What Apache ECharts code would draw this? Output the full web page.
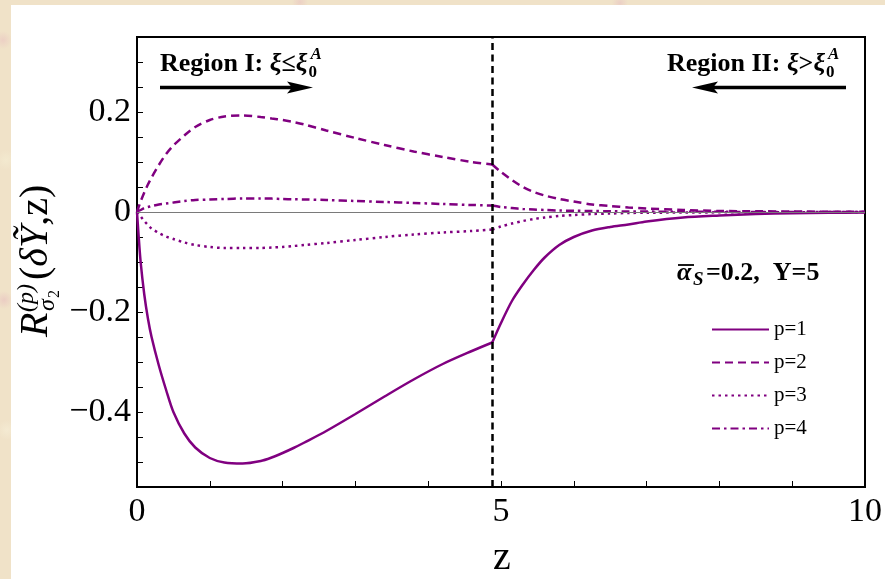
<!DOCTYPE html>
<html>
<head>
<meta charset="utf-8">
<script src="https://cdn.jsdelivr.net/npm/echarts@6/dist/echarts.min.js"></script>
<style>
  html, body { margin: 0; padding: 0; width: 885px; height: 579px; overflow: hidden; }
  body {
    background-color: #f0e2c8;
    background-image:
      radial-gradient(circle at 3px 40px, #ecd0c4 0, rgba(236,208,196,0) 9px),
      radial-gradient(circle at 6px 160px, #f3e9cf 0, rgba(243,233,207,0) 10px),
      radial-gradient(circle at 4px 300px, #ebcdc3 0, rgba(235,205,195,0) 9px),
      radial-gradient(circle at 7px 430px, #f4ead2 0, rgba(244,234,210,0) 10px),
      radial-gradient(circle at 300px 2px, #ecd0c4 0, rgba(236,208,196,0) 8px),
      radial-gradient(circle at 620px 3px, #ebcfc5 0, rgba(235,207,197,0) 8px);
  }
  #paper { position: absolute; left: 11px; top: 5px; width: 874px; height: 574px; background: #ffffff; }
  #chart { position: absolute; left: 0; top: 0; width: 885px; height: 579px; }
</style>
</head>
<body>
<div id="paper"></div>
<div id="chart"></div>
<script>
// z sample points (shared by all curves)
const zValues = [0, 0.02, 0.05, 0.1, 0.15, 0.2, 0.3, 0.4, 0.5, 0.65, 0.8, 1.0, 1.2, 1.45, 1.7, 1.85, 2.0, 2.15, 2.3, 2.6, 3.0, 3.4, 3.8, 4.2, 4.6, 4.88,
                 5.0, 5.15, 5.3, 5.45, 5.6, 5.8, 6.0, 6.25, 6.5, 6.75, 7.0, 7.5, 8.0, 8.5, 9.0, 9.5, 10.0];

// R^(p)_{sigma_2}(dY, z) for p = 1..4
const p1Values = [0, -0.043, -0.100, -0.165, -0.213, -0.250, -0.307, -0.356, -0.400, -0.443, -0.471, -0.492, -0.501, -0.503, -0.498, -0.491, -0.482, -0.472, -0.461, -0.438, -0.404, -0.369, -0.335, -0.304, -0.278, -0.261,
                  -0.222, -0.178, -0.145, -0.116, -0.091, -0.066, -0.050, -0.037, -0.030, -0.025, -0.019, -0.011, -0.007, -0.004, -0.0025, -0.0015, -0.001];
const p2Values = [0, 0.009, 0.021, 0.039, 0.055, 0.069, 0.094, 0.116, 0.133, 0.153, 0.170, 0.184, 0.191, 0.193, 0.190, 0.187, 0.184, 0.180, 0.175, 0.163, 0.148, 0.134, 0.121, 0.110, 0.100, 0.095,
                  0.080, 0.064, 0.050, 0.040, 0.033, 0.026, 0.021, 0.015, 0.012, 0.009, 0.007, 0.004, 0.002, 0.0015, 0.001, 0.0005, 0.0003];
const p3Values = [0, -0.004, -0.009, -0.018, -0.026, -0.033, -0.042, -0.049, -0.054, -0.061, -0.066, -0.070, -0.072, -0.072, -0.072, -0.071, -0.070, -0.068, -0.066, -0.062, -0.056, -0.050, -0.045, -0.041, -0.038, -0.035,
                  -0.029, -0.023, -0.018, -0.014, -0.011, -0.008, -0.006, -0.004, -0.003, -0.002, -0.0015, -0.001, -0.0007, -0.0005, -0.0003, -0.0002, -0.0001];
const p4Values = [0, 0.002, 0.004, 0.008, 0.010, 0.012, 0.015, 0.017, 0.019, 0.022, 0.024, 0.025, 0.026, 0.027, 0.027, 0.0268, 0.026, 0.0255, 0.025, 0.024, 0.022, 0.020, 0.018, 0.016, 0.014, 0.013,
                  0.010, 0.008, 0.006, 0.005, 0.004, 0.003, 0.0025, 0.002, 0.0015, 0.001, 0.0008, 0.0005, 0.0003, 0.0002, 0.0001, 0.0001, 0];

const seriesNames = ['p=1', 'p=2', 'p=3', 'p=4'];

// boundary between region I and region II
const zBoundary = 4.88;

// axis ticks and labels
const xTickValues = [0, 1, 2, 3, 4, 5, 6, 7, 8, 9, 10];
const xLabelValues = [0, 5, 10];
const xLabelTexts = ['0', '5', '10'];
const yTickValues = [-0.55, -0.5, -0.45, -0.4, -0.35, -0.3, -0.25, -0.2, -0.15, -0.1, -0.05, 0, 0.05, 0.1, 0.15, 0.2, 0.25, 0.3, 0.35];
const yLabelValues = [-0.4, -0.2, 0, 0.2];
const yLabelTexts = ['\u22120.4', '\u22120.2', '0', '0.2'];

const SERIF = '"Liberation Serif", "Times New Roman", serif';
const PURPLE = '#800080';

const lineTypes = ['solid', [8, 5], [2.5, 4], [8, 4, 2.5, 4]];
const allValues = [p1Values, p2Values, p3Values, p4Values];

function segment(vals, lo, hi) {
  return zValues.map((z, i) => [z, vals[i]]).filter(d => d[0] >= lo && d[0] <= hi);
}

function pickLabel(values, texts) {
  return v => {
    const i = values.findIndex(x => Math.abs(x - v) < 1e-9);
    return i >= 0 ? texts[i] : '';
  };
}

const series = [];
allValues.forEach((vals, k) => {
  [[0, zBoundary], [zBoundary, 10]].forEach(([lo, hi]) => {
    series.push({
      name: seriesNames[k],
      type: 'line',
      data: segment(vals, lo, hi),
      showSymbol: false,
      symbol: 'none',
      smooth: 0.3,
      silent: true,
      lineStyle: { color: PURPLE, width: 2.5, type: lineTypes[k], cap: 'butt' },
      itemStyle: { color: PURPLE },
      z: 3
    });
  });
});

// reference lines: zero level and region boundary
series.push({
  name: 'guides',
  type: 'line',
  data: [],
  silent: true,
  z: 2,
  markLine: {
    silent: true,
    symbol: ['none', 'none'],
    label: { show: false },
    data: [
      { yAxis: 0, lineStyle: { color: '#7a7a7a', width: 1.2, type: 'solid' } },
      { xAxis: zBoundary, lineStyle: { color: '#000', width: 2.5, type: [7, 4.5] } }
    ]
  }
});

// text measuring for sub/superscript placement
const measureCtx = document.createElement('canvas').getContext('2d');
function textWidth(str, font) { measureCtx.font = font; return measureCtx.measureText(str).width; }
// 'middle' y for a given baseline, Liberation Serif metrics
function midY(baseline, size) { return baseline - 0.3375 * size; }

function regionTitle(x, baseline, label, rel) {
  const fs = 26;
  const parts = [
    [label, 'bold ' + fs + 'px ' + SERIF],
    ['\u03be', 'italic bold ' + fs + 'px ' + SERIF],
    [rel, 'bold ' + fs + 'px ' + SERIF],
    ['\u03be', 'italic bold ' + fs + 'px ' + SERIF]
  ];
  const els = [];
  let cx = x;
  parts.forEach(([t, f]) => {
    els.push({ type: 'text', x: cx, y: midY(baseline, fs), style: { text: t, font: f, fill: '#000', verticalAlign: 'middle', align: 'left' } });
    cx += textWidth(t, f);
  });
  els.push({ type: 'text', x: cx + 1, y: midY(baseline + 5, 17), style: { text: '0', font: 'bold 17px ' + SERIF, fill: '#000', verticalAlign: 'middle', align: 'left' } });
  els.push({ type: 'text', x: cx + 3, y: midY(baseline - 13, 17), style: { text: 'A', font: 'italic bold 17px ' + SERIF, fill: '#000', verticalAlign: 'middle', align: 'left' } });
  return els;
}

function arrow(x0, x1, y) {
  // arrow from x0 to tip x1
  const dir = Math.sign(x1 - x0);
  const headLen = 26, half = 6, notch = 5;
  return [
    { type: 'line', shape: { x1: x0, y1: y, x2: x1 - dir * (headLen - notch), y2: y }, style: { stroke: '#000', lineWidth: 3.5 } },
    { type: 'polygon', shape: { points: [[x1, y], [x1 - dir * headLen, y - half], [x1 - dir * (headLen - notch), y], [x1 - dir * headLen, y + half]] }, style: { fill: '#000' } }
  ];
}

// vertical axis title, drawn rotated
const yTitle = {
  type: 'group',
  x: 50, y: 337,
  rotation: Math.PI / 2,
  children: [
    { type: 'text', x: 0, y: midY(0, 40), style: { text: 'R', font: 'italic 40px ' + SERIF, fill: '#000', verticalAlign: 'middle' } },
    { type: 'text', x: 25, y: midY(-15, 24), style: { text: '(p)', font: 'italic 24px ' + SERIF, fill: '#000', verticalAlign: 'middle' } },
    { type: 'text', x: 26, y: midY(6, 24), style: { text: '\u03c3', font: 'italic 24px ' + SERIF, fill: '#000', verticalAlign: 'middle' } },
    { type: 'text', x: 39, y: midY(10, 16), style: { text: '2', font: '16px ' + SERIF, fill: '#000', verticalAlign: 'middle' } },
    { type: 'text', x: 57, y: midY(0, 40), style: {
      text: '{n|(}{i|\u03b4\u1ef8}{n|,}{n|z}{n|)}', verticalAlign: 'middle',
      rich: { n: { font: '40px ' + SERIF, fill: '#000' }, i: { font: 'italic 40px ' + SERIF, fill: '#000' } } } }
  ]
};

const graphics = [].concat(
  regionTitle(160, 73, 'Region I: ', '\u2264'),
  arrow(160, 313, 87.5),
  regionTitle(667, 73, 'Region II: ', '>'),
  arrow(846, 692, 87.5),
  [
    // alpha_s bar and parameters
    { type: 'text', x: 677, y: midY(282, 26), style: { text: '\u03b1', font: 'italic bold 26px ' + SERIF, fill: '#000', verticalAlign: 'middle' } },
    { type: 'line', shape: { x1: 678, y1: 265, x2: 694, y2: 265 }, style: { stroke: '#000', lineWidth: 1.8 } },
    { type: 'text', x: 693, y: midY(287, 19), style: { text: 'S', font: 'italic bold 19px ' + SERIF, fill: '#000', verticalAlign: 'middle' } },
    { type: 'text', x: 706, y: midY(282, 26), style: { text: '=0.2,\u2002Y=5', font: 'bold 26px ' + SERIF, fill: '#000', verticalAlign: 'middle' } },
    yTitle,
    { type: 'text', x: 502, y: midY(572, 40), style: { text: 'z', font: '40px ' + SERIF, fill: '#000', align: 'center', verticalAlign: 'middle' } }
  ]
);

const chart = echarts.init(document.getElementById('chart'), null, { renderer: 'canvas' });
chart.setOption({
  animation: false,
  backgroundColor: 'transparent',
  grid: { left: 137, right: 18, top: 37, bottom: 92, show: true, borderColor: '#000', borderWidth: 2, backgroundColor: 'transparent' },
  legend: {
    data: seriesNames,
    orient: 'vertical',
    left: 706, top: 314,
    itemWidth: 57, itemHeight: 14, itemGap: 12,
    itemStyle: { opacity: 0 },
    textStyle: { fontFamily: SERIF, fontSize: 21, color: '#000', lineHeight: 21 },
    selectedMode: false
  },
  xAxis: {
    type: 'value', min: 0, max: 10,
    axisLine: { show: true, onZero: false, lineStyle: { color: '#000', width: 2 } },
    axisTick: { show: true, inside: true, length: 6, customValues: xTickValues, lineStyle: { color: '#000', width: 1 } },
    axisLabel: { customValues: xLabelValues, formatter: pickLabel(xLabelValues, xLabelTexts), fontFamily: SERIF, fontSize: 34, color: '#000', margin: 8 },
    splitLine: { show: false }
  },
  yAxis: {
    type: 'value', min: -0.55, max: 0.35,
    axisLine: { show: true, onZero: false, lineStyle: { color: '#000', width: 2 } },
    axisTick: { show: true, inside: true, length: 6, customValues: yTickValues, lineStyle: { color: '#000', width: 1 } },
    axisLabel: { customValues: yLabelValues, formatter: pickLabel(yLabelValues, yLabelTexts), fontFamily: SERIF, fontSize: 34, color: '#000', margin: 6 },
    splitLine: { show: false }
  },
  series: series,
  graphic: graphics
});
</script>
</body>
</html>
